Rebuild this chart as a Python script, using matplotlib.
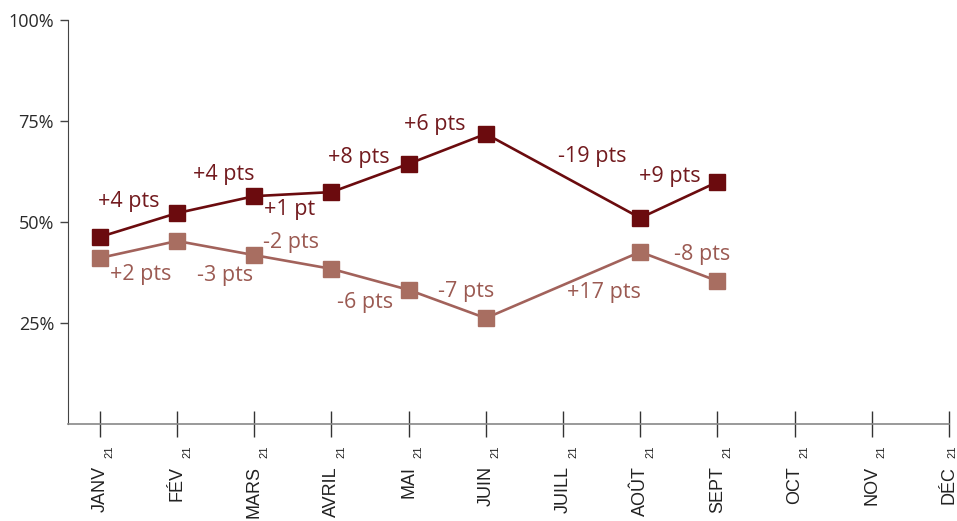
import numpy as np
import matplotlib
matplotlib.use('Agg')
import matplotlib.pyplot as plt
import matplotlib.transforms as mtransforms

# --------------------------------Data----------------------------------------------------------------------------
months = ['JANV', 'FÉV', 'MARS', 'AVRIL', 'MAI', 'JUIN', 'JUILL', 'AOÛT', 'SEPT', 'OCT', 'NOV', 'DÉC']
year = '21'
serie_fonce = [46.3, 52.2, 56.4, 57.4, 64.4, 71.8, None, 51.0, 59.9, None, None, None]
serie_clair = [41.1, 45.3, 41.8, 38.4, 33.2, 26.2, None, 42.6, 35.4, None, None, None]
# variations affichees a cote des points (FÉV -> SEPT)
var_fonce = [None, '+4 pts', '+4 pts', '+1 pt', '+8 pts', '+6 pts', None, '-19 pts', '+9 pts']
var_clair = [None, '+2 pts', '-3 pts', '-2 pts', '-6 pts', '-7 pts', None, '+17 pts', '-8 pts']
y_ticks = [25, 50, 75, 100]

# --------------------------------Style---------------------------------------------------------------------------
c_fonce = '#6b0b0e'
c_clair = '#a86e61'
c_ligne_clair = '#a2625b'
c_txt_fonce = '#721a1e'
c_txt_clair = '#9b5a52'
# decalages des etiquettes (pixels) par rapport au point
off_fonce = [None, (-48, 12), (-31, 22), (-42, -17), (-50, 6), (-51, 9), None, (-48, 61), (-48, 6)]
off_clair = [None, (-36, -34), (-29, -20), (-40, 26), (-44, -13), (-20, 27), None, (-36, -41), (-15, 26)]

fig = plt.figure(figsize=(9.57, 5.21), dpi=100)
ax = fig.add_axes([68 / 957, 97 / 521, 881 / 957, 404 / 521])

x = np.arange(len(months))


def plot_serie(vals, color, line_color):
    xs = [i for i, v in enumerate(vals) if v is not None]
    ys = [v for v in vals if v is not None]
    ax.plot(xs, ys, color=line_color, lw=1.9, zorder=2)
    ax.plot(xs, ys, ls='none', marker='s', ms=11.5, color=color, zorder=3)


plot_serie(serie_fonce, c_fonce, c_fonce)
plot_serie(serie_clair, c_clair, c_ligne_clair)

for vals, labels, offs, col in [(serie_fonce, var_fonce, off_fonce, c_txt_fonce),
                                (serie_clair, var_clair, off_clair, c_txt_clair)]:
    for i, lab in enumerate(labels):
        if lab is None:
            continue
        ax.annotate(lab, (i, vals[i]), xytext=offs[i], textcoords='offset pixels',
                    ha='center', va='center', fontsize=15.5, color=col, family='Open Sans')

ax.set_xlim(-0.413, 11)
ax.set_ylim(0, 100)
ax.set_yticks(y_ticks)
ax.set_yticklabels(['{}%'.format(t) for t in y_ticks], fontsize=13, color='#2a2a2a', family='Open Sans')
ax.set_xticks(x)
ax.set_xticklabels(months, rotation=90, va='top', ha='center', fontsize=13,
                   color='#222222', family='Liberation Sans')

ax.tick_params(axis='x', direction='inout', length=19, width=1, color='#333333', pad=21)
ax.tick_params(axis='y', direction='out', length=6, width=1, color='#444444', pad=4)
for s in ['top', 'right']:
    ax.spines[s].set_visible(False)
ax.spines['left'].set_color('#444444')
ax.spines['bottom'].set_color('#888888')
ax.spines['bottom'].set_linewidth(1.2)

# petit "21" a cote de chaque mois (le dernier un peu rentre pour rester visible)
trans = mtransforms.blended_transform_factory(ax.transData, fig.transFigure)
for i in x:
    dx = 10 if i < len(months) - 1 else 3.5
    shift = mtransforms.ScaledTranslation(dx / 100, 0, fig.dpi_scale_trans)
    ax.text(i, 1 - 446 / 521, year, transform=trans + shift, rotation=90, fontsize=8,
            ha='center', va='top', color='#222222', family='Liberation Sans')

fig.savefig('out.png', dpi=100)
